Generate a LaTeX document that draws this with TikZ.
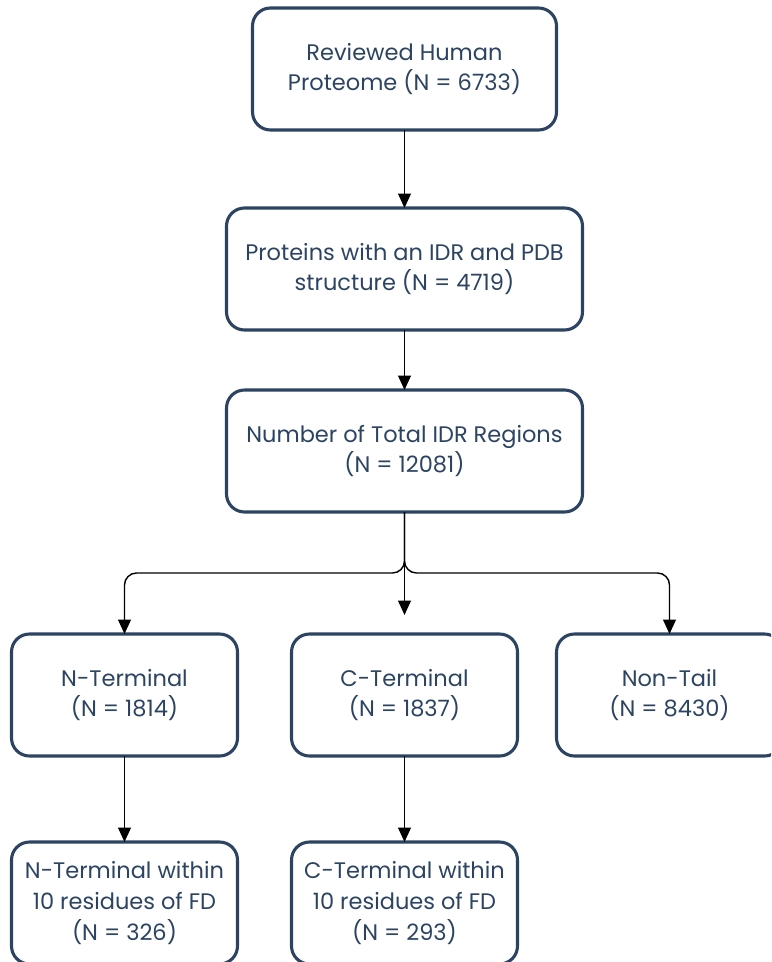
\documentclass[tikz,border=0pt]{standalone}
\usepackage{tikz}
\usetikzlibrary{positioning, arrows.meta, calc}
\usepackage{fontspec}
\setmainfont{Poppins}
\usepackage{xcolor}
\definecolor{flownavy}{HTML}{2C4462}

\begin{document}
\begin{tikzpicture}[
          flowbox/.style={draw=flownavy, line width=2.2pt, rounded corners=0.45cm, fill=white, text=flownavy, outer sep=0pt,
            font=\fontsize{16}{22}\selectfont, minimum height=3.05cm, align=center},
          arr/.style={-{Triangle[length=0.36cm, width=0.32cm]}, line width=1pt, black}]
        \clip (0,0) rectangle (19.275,-24.05);
        \node[flowbox, minimum width=7.6cm] (root) at (10.1125,-1.725) {Reviewed Human\\Proteome (N = 6733)};
        \node[flowbox, minimum width=8.9cm, below=1.95cm of root] (idr) {Proteins with an IDR and PDB\\structure (N = 4719)};
        \node[flowbox, minimum width=8.9cm, below=1.5cm of idr] (total) {Number of Total IDR Regions\\(N = 12081)};
        \node[flowbox, minimum width=5.65cm, below=3.05cm of total] (cterm) {C-Terminal\\(N = 1837)};
        \node[flowbox, minimum width=5.65cm, left=1.35cm of cterm] (nterm) {N-Terminal\\(N = 1814)};
        \node[flowbox, minimum width=5.65cm, right=0.975cm of cterm] (nontail) {Non-Tail\\(N = 8430)};
        \node[flowbox, minimum width=5.65cm, below=2.15cm of nterm] (nfd) {N-Terminal within\\10 residues of FD\\(N = 326)};
        \node[flowbox, minimum width=5.65cm, below=2.15cm of cterm] (cfd) {C-Terminal within\\10 residues of FD\\(N = 293)};
        \coordinate[below=1.525cm of total] (split);
        \draw[arr] (root) -- (idr);
        \draw[arr] (idr) -- (total);
        \draw[arr, shorten >=0.475cm] (total) -- (cterm);
        \draw[arr, rounded corners=0.3cm] (total.south) -- (split) -| (nterm.north);
        \draw[arr, rounded corners=0.3cm] (total.south) -- (split) -| (nontail.north);
        \draw[arr] (nterm) -- (nfd);
        \draw[arr] (cterm) -- (cfd);
      \end{tikzpicture}
\end{document}
